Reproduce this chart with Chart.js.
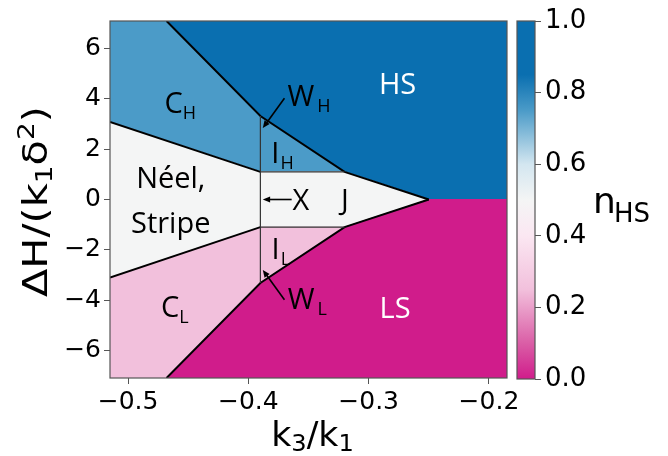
<!DOCTYPE html>
<html>
<head>
<meta charset="utf-8">
<script src="https://cdn.jsdelivr.net/npm/chart.js@4.4.1/dist/chart.umd.min.js"></script>
<style>
  html, body { margin: 0; padding: 0; background: #fff; }
  #wrap { position: relative; width: 668px; height: 456px; }
  #main { position: absolute; left: 0; top: 0; width: 668px; height: 456px; }
  #cbar { position: absolute; left: 507px; top: 0; width: 161px; height: 456px; }
</style>
</head>
<body>
<div id="wrap">
  <canvas id="main" width="668" height="456"></canvas>
  <canvas id="cbar" width="161" height="456"></canvas>
</div>
<script>
// axis ranges and ticks
const xMin = -0.515, xMax = -0.185;
const yMin = -7.1, yMax = 7.1;
const xTicks = [-0.5, -0.4, -0.3, -0.2];
const yTicks = [-6, -4, -2, 0, 2, 4, 6];
const cbTicks = [0, 0.2, 0.4, 0.6, 0.8, 1.0];

// phase boundaries (k3/k1, dH)
const hsBoundary = [[-0.468, 7.1], [-0.39, 3.32], [-0.32, 1.1], [-0.25, 0]];
const lsBoundary = [[-0.468, -7.1], [-0.39, -3.32], [-0.32, -1.1], [-0.25, 0]];
const chBoundary = [[-0.515, 3.08], [-0.39, 1.1]];
const clBoundary = [[-0.515, -3.1], [-0.39, -1.1]];
const wLine = [[-0.39, 3.32], [-0.39, -3.32]];
const ihLine = [[-0.39, 1.1], [-0.32, 1.1]];
const ilLine = [[-0.39, -1.1], [-0.32, -1.1]];

// n_HS in each phase
const phaseNames = ['HS', 'C_H', 'Neel', 'C_L', 'LS'];
const phaseValues = [1.0, 0.75, 0.5, 0.25, 0.0];
const phasePolys = [
  [...hsBoundary, [xMax, 0], [xMax, yMax]],
  [[xMin, yMax], hsBoundary[0], hsBoundary[1], hsBoundary[2], ihLine[0], chBoundary[0]],
  [chBoundary[0], chBoundary[1], hsBoundary[2], hsBoundary[3], lsBoundary[2], clBoundary[1], clBoundary[0]],
  [[xMin, yMin], lsBoundary[0], lsBoundary[1], lsBoundary[2], ilLine[0], clBoundary[0]],
  [...lsBoundary, [xMax, 0], [xMax, yMin]]
];

// colour map of n_HS
const cmapStops = [[0, '#d01c8b'], [0.1, '#da5ea6'], [0.25, '#f2c0dc'], [0.4, '#fbe7f2'],
  [0.5, '#f4f5f5'], [0.6, '#d3e6f0'], [0.75, '#4b9bc8'], [0.85, '#0a6fb0'], [1, '#0a6fb0']];

// text labels: main, subscript, x, baseline y (data units)
const labels = [
  ['HS', '', -0.276, 4.19, '#fff'],
  ['LS', '', -0.278, -4.70, '#fff'],
  ['C', 'H', -0.4566, 3.45, '#000'],
  ['C', 'L', -0.4612, -4.69, '#000'],
  ['W', 'H', -0.3496, 3.70, '#000'],
  ['W', 'L', -0.351, -4.35, '#000'],
  ['I', 'H', -0.3716, 1.45, '#000'],
  ['I', 'L', -0.373, -2.37, '#000'],
  ['X', '', -0.3563, -0.42, '#000'],
  ['J', '', -0.3197, -0.42, '#000'],
  ['Néel,', '', -0.4645, 0.44, '#000'],
  ['Stripe', '', -0.4645, -1.33, '#000']
];
// arrows: from -> to
const arrows = [
  [[-0.370, 4.03], [-0.388, 2.84]],
  [[-0.364, 0.0], [-0.388, 0.0]],
  [[-0.370, -3.99], [-0.388, -2.80]]
];

const hex = h => [1, 3, 5].map(i => parseInt(h.slice(i, i + 2), 16));
const cmap = v => {
  for (let i = 1; i < cmapStops.length; i++) {
    const [v0, c0] = cmapStops[i - 1], [v1, c1] = cmapStops[i];
    if (v <= v1) {
      const t = (v - v0) / (v1 - v0 || 1);
      const a = hex(c0), b = hex(c1);
      return 'rgb(' + a.map((x, k) => Math.round(x + (b[k] - x) * t)).join(',') + ')';
    }
  }
  return cmapStops[cmapStops.length - 1][1];
};

const toPts = arr => arr.map(([x, y]) => ({ x, y }));
const lineDs = (arr, w, color) => ({
  data: toPts(arr), showLine: true, borderColor: color, borderWidth: w,
  pointRadius: 0, fill: false, tension: 0
});
const minus = v => String(v).replace('-', '\u2212');
const tickFont = { family: 'DejaVu Sans', size: 25 };

// text made of pieces [text, size, dy], centred on cx, stretched along its length
function drawParts(ctx, parts, cx, base, stretch) {
  let w = 0;
  parts.forEach(([t, s]) => { ctx.font = s + 'px "DejaVu Sans"'; w += ctx.measureText(t).width; });
  ctx.save();
  ctx.translate(cx, base);
  ctx.scale(stretch, 1);
  ctx.textAlign = 'left';
  ctx.textBaseline = 'alphabetic';
  ctx.fillStyle = '#000';
  let x = -w / 2;
  parts.forEach(([t, s, dy]) => {
    ctx.font = s + 'px "DejaVu Sans"';
    ctx.fillText(t, x, dy);
    x += ctx.measureText(t).width;
  });
  ctx.restore();
}

// fill the phase regions
const regionPlugin = {
  id: 'regions',
  beforeDatasetsDraw(chart) {
    const { ctx, chartArea: a, scales: { x, y } } = chart;
    ctx.save();
    ctx.beginPath();
    ctx.rect(a.left, a.top, a.right - a.left, a.bottom - a.top);
    ctx.clip();
    phasePolys.forEach((poly, i) => {
      ctx.beginPath();
      poly.forEach(([px, py], k) => {
        const X = x.getPixelForValue(px), Y = y.getPixelForValue(py);
        k ? ctx.lineTo(X, Y) : ctx.moveTo(X, Y);
      });
      ctx.closePath();
      ctx.fillStyle = cmap(phaseValues[i]);
      ctx.strokeStyle = ctx.fillStyle;
      ctx.lineWidth = 1;
      ctx.fill();
      ctx.stroke();
    });
    ctx.restore();
  }
};

function drawLabel(ctx, main, sub, cx, by, color) {
  const big = main.length > 2 ? 29 : 29;
  ctx.font = big + 'px "Open Sans"';
  const w1 = ctx.measureText(main).width;
  ctx.font = '18px "Open Sans"';
  const gap = main === 'W' ? 3 : (main === 'C' ? 0 : 1);
  const w2 = sub ? ctx.measureText(sub).width + gap : 0;
  const x0 = cx - (w1 + w2) / 2;
  ctx.fillStyle = color;
  ctx.textAlign = 'left';
  ctx.textBaseline = 'alphabetic';
  ctx.font = big + 'px "Open Sans"';
  ctx.fillText(main, x0, by);
  if (sub) {
    ctx.font = '18px "Open Sans"';
    ctx.fillText(sub, x0 + w1 + gap, by + 6);
  }
}

const annotPlugin = {
  id: 'annot',
  afterDatasetsDraw(chart) {
    const { ctx, chartArea: a, scales: { x, y } } = chart;
    ctx.save();
    labels.forEach(([m, s, lx, ly, c]) => drawLabel(ctx, m, s, x.getPixelForValue(lx), y.getPixelForValue(ly), c));
    ctx.strokeStyle = '#000';
    ctx.fillStyle = '#000';
    ctx.lineWidth = 1.6;
    arrows.forEach(([f, t]) => {
      const x0 = x.getPixelForValue(f[0]), y0 = y.getPixelForValue(f[1]);
      const x1 = x.getPixelForValue(t[0]), y1 = y.getPixelForValue(t[1]);
      const ang = Math.atan2(y1 - y0, x1 - x0);
      const hl = 8;
      ctx.beginPath();
      ctx.moveTo(x0, y0);
      ctx.lineTo(x1 - Math.cos(ang) * hl * 0.8, y1 - Math.sin(ang) * hl * 0.8);
      ctx.stroke();
      ctx.beginPath();
      ctx.moveTo(x1, y1);
      ctx.lineTo(x1 - hl * Math.cos(ang - 0.4), y1 - hl * Math.sin(ang - 0.4));
      ctx.lineTo(x1 - hl * Math.cos(ang + 0.4), y1 - hl * Math.sin(ang + 0.4));
      ctx.closePath();
      ctx.fill();
    });
    // axes frame
    ctx.strokeStyle = '#555';
    ctx.lineWidth = 1.2;
    ctx.strokeRect(a.left, a.top, a.right - a.left, a.bottom - a.top);
    ctx.restore();
  },
  afterDraw(chart) {
    const { ctx, chartArea: a } = chart;
    // axis titles with real sub/superscripts
    drawParts(ctx, [['k', 33, 0], ['3', 23, 5], ['/', 33, 0], ['k', 33, 0], ['1', 23, 5]],
      (a.left + a.right) / 2 + 4, 446, 1.05);
    ctx.save();
    ctx.translate(47, (a.top + a.bottom) / 2 + 2);
    ctx.rotate(-Math.PI / 2);
    drawParts(ctx, [['ΔH/(k', 34, 0], ['1', 23, 5], ['δ', 34, 0], ['2', 23, -13], [')', 34, 0]], 0, 0, 1.22);
    ctx.restore();
  }
};

new Chart(document.getElementById('main'), {
  type: 'scatter',
  data: {
    datasets: [
      lineDs(wLine, 1.2, '#333'),
      lineDs(ihLine, 1.2, '#333'),
      lineDs(ilLine, 1.2, '#333'),
      lineDs(hsBoundary, 2, '#000'),
      lineDs(lsBoundary, 2, '#000'),
      lineDs(chBoundary, 2, '#000'),
      lineDs(clBoundary, 2, '#000')
    ]
  },
  options: {
    responsive: false,
    animation: false,
    layout: { padding: { left: 0, top: 21, right: 161, bottom: 0 } },
    plugins: { legend: { display: false }, tooltip: { enabled: false } },
    scales: {
      x: {
        type: 'linear', min: xMin, max: xMax,
        afterBuildTicks: s => { s.ticks = xTicks.map(v => ({ value: v })); },
        afterFit: s => { s.height = 78; },
        grid: { drawOnChartArea: false, drawTicks: true, tickLength: 6, color: '#555' },
        border: { display: false },
        ticks: { font: tickFont, color: '#000', padding: 3, maxRotation: 0, callback: v => minus(v.toFixed(1)) }
      },
      y: {
        type: 'linear', min: yMin, max: yMax,
        afterBuildTicks: s => { s.ticks = yTicks.map(v => ({ value: v })); },
        afterFit: s => { s.width = 110; },
        grid: { drawOnChartArea: false, drawTicks: true, tickLength: 6, color: '#555' },
        border: { display: false },
        ticks: { font: tickFont, color: '#000', padding: 3, callback: v => minus(v) }
      }
    }
  },
  plugins: [regionPlugin, annotPlugin]
});

// colour bar
const cbarPlugin = {
  id: 'cbarFill',
  beforeDatasetsDraw(chart) {
    const { ctx, chartArea: a } = chart;
    const g = ctx.createLinearGradient(0, a.bottom, 0, a.top);
    cmapStops.forEach(([v, c]) => g.addColorStop(v, c));
    ctx.save();
    ctx.fillStyle = g;
    ctx.fillRect(a.left, a.top, a.right - a.left, a.bottom - a.top);
    ctx.strokeStyle = '#555';
    ctx.lineWidth = 1.2;
    ctx.strokeRect(a.left, a.top, a.right - a.left, a.bottom - a.top);
    // n_HS label
    ctx.fillStyle = '#000';
    ctx.textBaseline = 'alphabetic';
    ctx.textAlign = 'left';
    ctx.font = '36px "DejaVu Sans"';
    ctx.fillText('n', a.right + 58, 213);
    ctx.font = '26px "DejaVu Sans"';
    ctx.fillText('HS', a.right + 79, 222);
    ctx.restore();
  }
};

new Chart(document.getElementById('cbar'), {
  type: 'scatter',
  data: { datasets: [{ data: [] }] },
  options: {
    responsive: false,
    animation: false,
    layout: { padding: { left: 10, top: 21, right: 0, bottom: 77 } },
    plugins: { legend: { display: false }, tooltip: { enabled: false } },
    scales: {
      x: { display: false, min: 0, max: 1 },
      y: {
        position: 'right', min: 0, max: 1,
        afterBuildTicks: s => { s.ticks = cbTicks.map(v => ({ value: v })); },
        afterFit: s => { s.width = 133; },
        grid: { drawOnChartArea: false, drawTicks: true, tickLength: 6, color: '#555' },
        border: { display: false },
        ticks: { font: { family: 'DejaVu Sans', size: 26 }, color: '#000', padding: 4, callback: v => v.toFixed(1) }
      }
    }
  },
  plugins: [cbarPlugin]
});
</script>
</body>
</html>
